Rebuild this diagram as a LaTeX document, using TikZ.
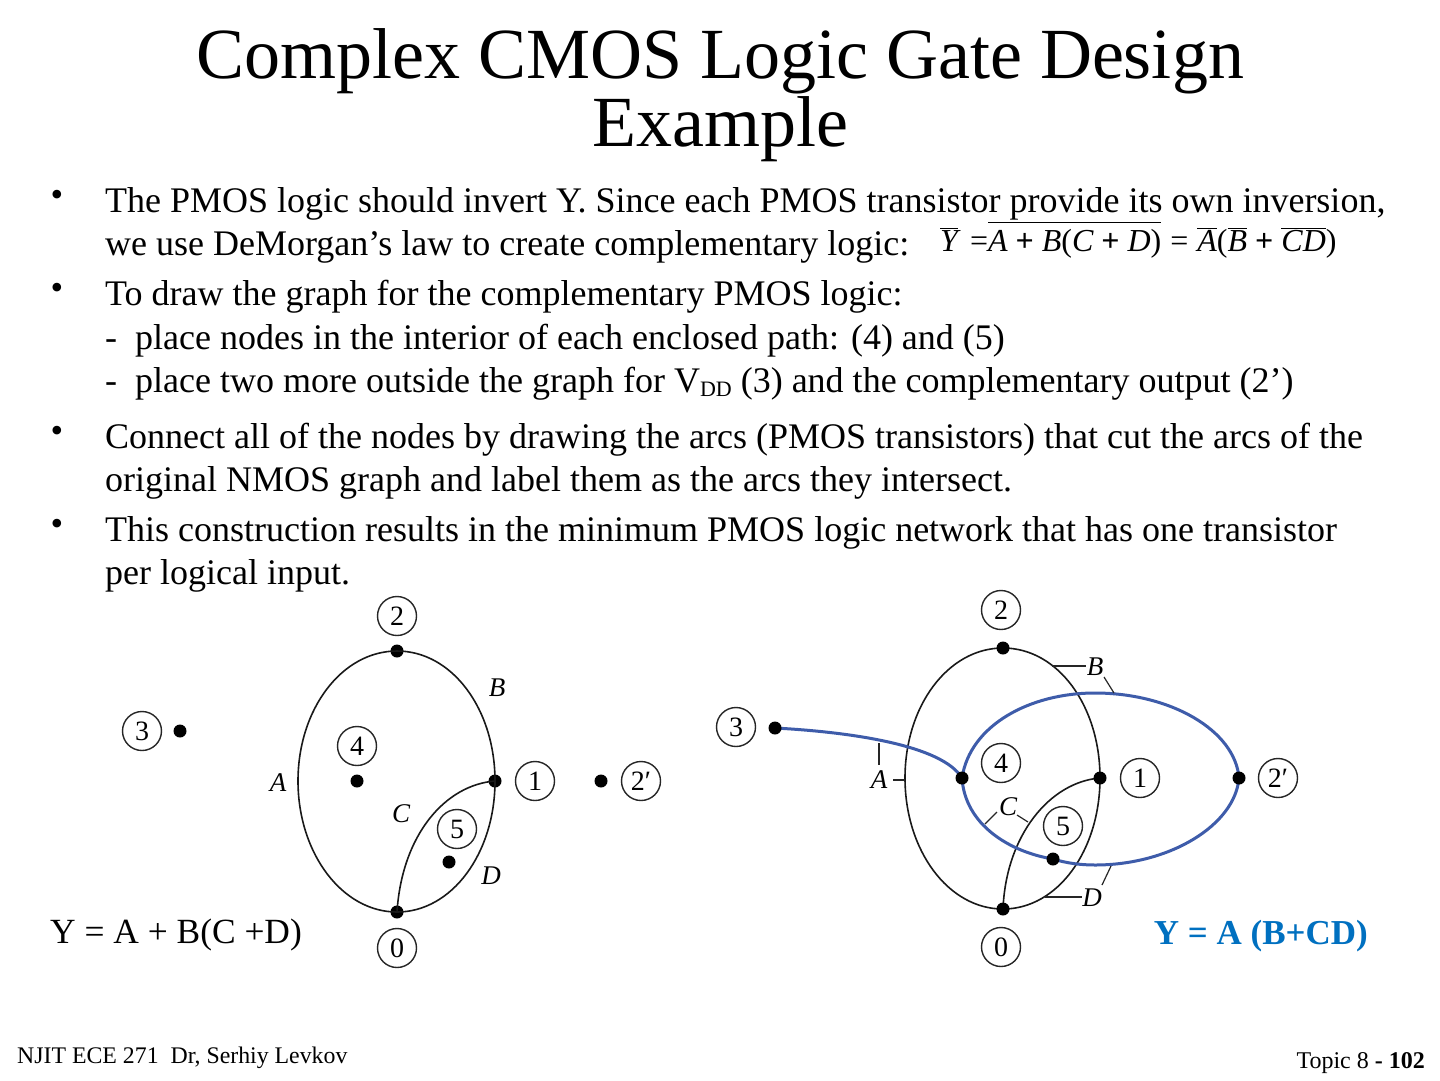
\documentclass[tikz,border=0pt]{standalone}
\usepackage{fontspec}
\setmainfont{Liberation Serif}
\definecolor{titleblue}{RGB}{0,112,192}
\definecolor{loopblue}{RGB}{62,92,170}
\newcommand{\ovl}[1]{$\overline{\hbox{\itshape #1}}$}
\newcommand{\ovlhigh}[1]{$\overline{\hbox{\itshape\rule{0pt}{.86em}#1}}$}
\begin{document}
\begin{tikzpicture}[x=1pt,y=-1pt,line/.style={anchor=base west,font=\fontsize{36}{36}\selectfont,inner sep=0pt},bul/.style={font=\fontsize{36}{36}\selectfont,inner sep=0pt},num/.style={draw=black!85,circle,line width=1.4pt,minimum size=39pt,inner sep=0pt,font=\fontsize{28}{28}\selectfont},dot/.style={fill=black,circle,minimum size=13pt,inner sep=0pt},arc/.style={draw=black!90,line width=1.6pt},blue arc/.style={draw=loopblue,line width=3pt},lab/.style={font=\itshape\fontsize{27}{27}\selectfont,inner sep=0pt},tick/.style={draw=black!85,line width=1.2pt}]
\useasboundingbox[fill=white](0,0)rectangle(1440,1080);

\node[align=center,inner sep=0pt,font=\fontsize{72}{68}\selectfont](title)at(720,95){Complex CMOS Logic Gate Design\\Example};

\foreach \n/\y in {a/198,b/291,c/434,d/527}{
 \node[bul](bullet\n)at(57,\y){•};
}
\foreach \n/\y/\t in {
 a/212/{The PMOS logic should invert Y. Since each PMOS transistor provide its own inversion,},
 b/255/{we use DeMorgan’s law to create complementary logic:},
 c/305/{To draw the graph for the complementary PMOS logic:},
 d/349/{-\ \ place nodes in the interior of each enclosed path: (4) and (5)},
 e/392/{-\ \ place two more outside the graph for V\raisebox{-4pt}{\fontsize{22}{22}\selectfont DD} (3) and the complementary output (2’)},
 f/448/{Connect all of the nodes by drawing the arcs (PMOS transistors) that cut the arcs of the},
 g/491/{original NMOS graph and label them as the arcs they intersect.},
 h/541/{This construction results in the minimum PMOS logic network that has one transistor},
 i/584/{per logical input.}}{
 \node[line](line\n)at(105,\y){\t};
}
\node[anchor=base west,inner sep=0pt,font=\fontsize{32}{32}\selectfont](formula)at(940,251){\ovl{Y}\hspace{12pt}=\ovlhigh{A\ {\upshape\bfseries +}\ B{\upshape(}C\ {\upshape\bfseries +}\ D{\upshape)}}\hspace{9pt}=\hspace{9pt}\ovl{A}{\upshape(}\ovl{B}\ {\upshape\bfseries +}\ \ovl{C}\ovl{D}{\upshape)}};

% Left graph: the NMOS network with the new points placed.
\node[num](ltwo)at(397,616){2};
\node[num](lzero)at(397,948){0};
\node[num](lthree)at(142,731){3};
\node[num](lfour)at(357,746){4};
\node[num](lone)at(535,781){1};
\node[num](lfive)at(457,829){5};
\node[num](ltwop)at(641,781){2′};
\node[dot](dtwo)at(397,651){};
\node[dot](dzero)at(397,912){};
\node[dot](done)at(495,781){};
\node[dot](dfour)at(357,781){};
\node[dot](dfive)at(449,862){};
\node[dot](dthree)at(180,731){};
\node[dot](dtwop)at(601,781){};
\draw[arc](dtwo.center)..controls(342,651)and(298,709)..(298,781)..controls(298,853)and(342,912)..(dzero.center);
\draw[arc](dtwo.center)..controls(452,651)and(495,709)..(done.center);
\draw[arc](done.center)..controls(495,853)and(452,912)..(dzero.center);
\draw[arc](done.center)..controls(445,785)and(402,835)..(dzero.center);
\node[lab](la)at(278,783){A};
\node[lab](lb)at(497,688){B};
\node[lab](lc)at(401,814){C};
\node[lab](ld)at(491,876){D};

% Right graph: blue arcs cut the arcs of the original one.
\node[num](rtwo)at(1001,610){2};
\node[num](rzero)at(1001,947){0};
\node[num](rthree)at(736,727){3};
\node[num](rfour)at(1001,763){4};
\node[num](rone)at(1140,778){1};
\node[num](rfive)at(1063,826){5};
\node[num](rtwop)at(1278,778){2′};
\coordinate(etwo)at(1003,648);
\coordinate(ezero)at(1003,909);
\coordinate(eone)at(1100,778);
\coordinate(efour)at(962,778);
\coordinate(efive)at(1053,859);
\coordinate(ethree)at(775,728);
\coordinate(etwop)at(1239,778);
\draw[arc](etwo)..controls(948,648)and(905,706)..(905,778)..controls(905,850)and(948,909)..(ezero);
\draw[arc](etwo)..controls(1058,648)and(1100,706)..(eone);
\draw[arc](eone)..controls(1100,850)and(1058,909)..(ezero);
\draw[arc](eone)..controls(1050,782)and(1006,835)..(ezero);
\draw[blue arc](ethree)..controls(850,732)and(942,745)..(efour);
\draw[blue arc](efour)..controls(970,725)and(1030,693)..(1095,693)..controls(1170,693)and(1235,730)..(etwop);
\draw[blue arc](etwop)..controls(1235,825)and(1170,865)..(1095,865)..controls(1080,865)and(1066,863)..(efive);
\draw[blue arc](efive)..controls(1010,852)and(965,825)..(efour);
\foreach \p in {etwo,ezero,eone,efour,efive,ethree,etwop}{
 \node[dot](m\p)at(\p){};
}
\node[lab](ra)at(879,780){A};
\node[lab](rb)at(1095,667){B};
\node[lab](rc)at(1008,807){C};
\node[lab](rd)at(1092,898){D};
\draw[tick](879,743)--(879,765);
\draw[tick](893,780)--(905,780);
\draw[tick](1052,666)--(1086,666);
\draw[tick](1104,677)--(1114,693);
\draw[tick](997,812)--(985,824);
\draw[tick](1017,815)--(1028,822);
\draw[tick](1045,897)--(1082,897);
\draw[tick](1111,866)--(1102,885);

\node[anchor=base west,inner sep=0pt,font=\fontsize{35.4}{36}\selectfont](nmoseq)at(50,943){Y = A + B(C +D)};
\node[anchor=base east,inner sep=0pt,text=titleblue,font=\bfseries\fontsize{35}{35}\selectfont](pmoseq)at(1368,944){Y = A (B+CD)};
\node[anchor=base west,inner sep=0pt,font=\fontsize{23.8}{24}\selectfont](footer)at(17,1063){NJIT ECE 271\ \ Dr, Serhiy Levkov};
\node[anchor=base east,inner sep=0pt,font=\fontsize{24}{24}\selectfont](page)at(1425,1068){Topic 8 \textbf{- 102}};
\end{tikzpicture}
\end{document}
